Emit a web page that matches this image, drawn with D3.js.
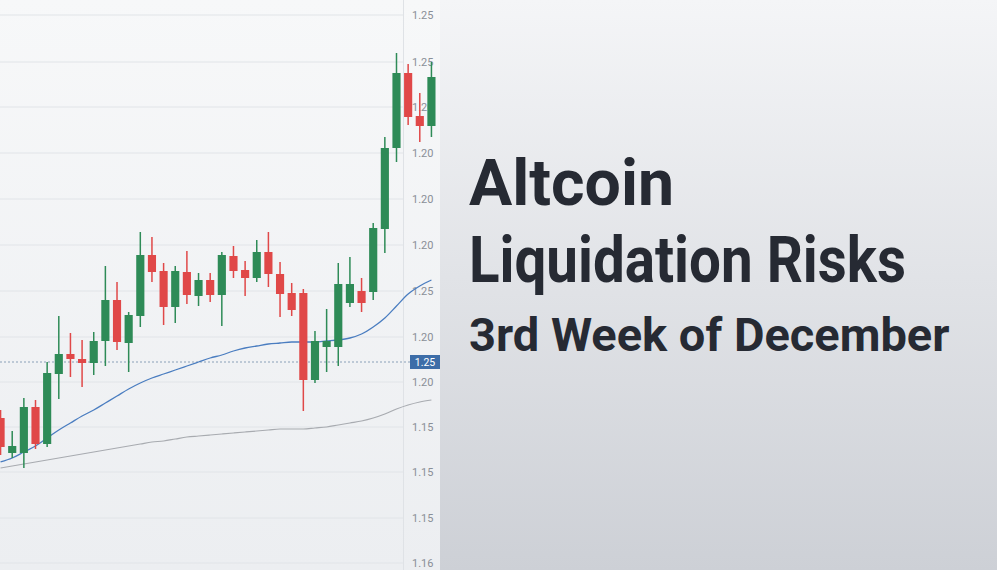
<!DOCTYPE html>
<html><head><meta charset="utf-8">
<script src="https://cdn.jsdelivr.net/npm/d3@7"></script>
<style>body{margin:0;overflow:hidden}svg{display:block}</style>
</head><body><svg></svg>
<script>
var width = 997, height = 570;

var opens  = [418,453,453,407,444,374,354,359,363,341,300,343,316,255,271,307,272,296,280,295,256,270,278,252,274,293,293,380,347,347,303,291,292,229,148,73,116,126];
var closes = [447,446,407,444,373,354,359,363,341,300,342,315,255,272,307,271,295,280,295,255,271,278,252,274,294,310,380,341,341,284,284,303,228,148,73,117,126,77];
var highs  = [410,431,398,400,362,316,333,340,332,266,282,312,232,237,263,266,251,273,273,252,246,261,240,232,262,283,289,331,309,263,257,278,223,137,53,64,93,62];
var lows   = [455,458,468,449,447,399,377,387,375,366,350,372,327,282,325,323,304,306,302,326,278,296,282,287,317,316,411,383,372,366,307,312,300,253,162,125,142,137];
var maFast = [462,458,452,446,438,430,423,416,410,403,396,389,383,378,374,370,366,362,358,355,351,348,346,344,343,342,342,342,341,340,338,334,327,318,306,294,286,280];
var maSlow = [468,466,464,462,460,458,456,454,452,450,448,446,444,442,441,439,437,436,435,434,433,432,431,430,429,429,429,428,427,425,423,421,418,414,409,405,402,400];
var gridLevels = [15,62,107,153,199,245,291,337,382,427,472,518,563];
var tickLabels = ["1.25","1.25","1.20","1.20","1.20","1.20","1.25","1.20","1.20","1.15","1.15","1.15","1.16"];
var lastPrice = {level: 362, label: "1.25"};
var titleLines = ["Altcoin", "Liquidation Risks"];
var titleWidths = [205, 437];
var subtitle = "3rd Week of December";

var svg = d3.select("svg").attr("width", width).attr("height", height);
var defs = svg.append("defs");
var g1 = defs.append("linearGradient").attr("id","panel").attr("x1",0).attr("y1",0).attr("x2",0).attr("y2",1);
g1.append("stop").attr("offset","0").attr("stop-color","#f4f5f7");
g1.append("stop").attr("offset","1").attr("stop-color","#cdd0d6");
var g2 = defs.append("linearGradient").attr("id","chartbg").attr("x1",0).attr("y1",0).attr("x2",0).attr("y2",1);
g2.append("stop").attr("offset","0").attr("stop-color","#f7f8f9");
g2.append("stop").attr("offset","1").attr("stop-color","#eceef1");

svg.append("rect").attr("width",440).attr("height",height).attr("fill","url(#chartbg)");
svg.append("rect").attr("x",440).attr("width",width-440).attr("height",height).attr("fill","url(#panel)");

var x = d3.scaleBand().domain(d3.range(opens.length)).range([-7, 439]).padding(0.3);
var y = d3.scaleLinear().domain([0, height]).range([0, height]);
var cx = i => x(i) + x.bandwidth()/2;

// grid
svg.append("g").selectAll("line").data(gridLevels).enter().append("line")
    .attr("x1",0).attr("x2",403).attr("y1",d=>y(d)).attr("y2",d=>y(d))
    .attr("stroke","#e1e4e8").attr("stroke-width",1);
svg.append("line").attr("x1",403.5).attr("x2",403.5).attr("y1",0).attr("y2",height)
    .attr("stroke","#dfe2e6");

// price axis labels
svg.append("g").selectAll("text").data(gridLevels).enter().append("text")
    .attr("x",412).attr("y",d=>y(d)+4).text((d,i)=>tickLabels[i])
    .attr("font-family","Roboto, sans-serif").attr("font-size",11).attr("fill","#8a8f97");

// last price line
svg.append("line").attr("x1",0).attr("x2",410).attr("y1",y(lastPrice.level)).attr("y2",y(lastPrice.level))
    .attr("stroke","#8aa0b8").attr("stroke-dasharray","2,2");
svg.append("rect").attr("x",410).attr("y",y(lastPrice.level)-7).attr("width",30).attr("height",14).attr("fill","#3d6da8");
svg.append("text").attr("x",425).attr("y",y(lastPrice.level)+4).attr("text-anchor","middle")
    .attr("font-family","Roboto, sans-serif").attr("font-size",10.5).attr("fill","#fff").text(lastPrice.label);

// moving averages
var line = d3.line().x((d,i)=>cx(i)).y(d=>y(d)).curve(d3.curveMonotoneX);
svg.append("path").datum(maSlow).attr("d",line).attr("fill","none").attr("stroke","#a8abb0").attr("stroke-width",1.2);
svg.append("path").datum(maFast).attr("d",line).attr("fill","none").attr("stroke","#4a7dc0").attr("stroke-width",1.3);

// candles
var c = svg.append("g").selectAll("g").data(opens).enter().append("g");
var col = i => closes[i] < opens[i] ? "#2e8b57" : "#e04848";
c.append("line").attr("x1",(d,i)=>cx(i)).attr("x2",(d,i)=>cx(i))
    .attr("y1",(d,i)=>y(highs[i])).attr("y2",(d,i)=>y(lows[i]))
    .attr("stroke",(d,i)=>col(i)).attr("stroke-width",1.5);
c.append("rect").attr("x",(d,i)=>x(i)).attr("width",x.bandwidth())
    .attr("y",(d,i)=>y(Math.min(opens[i],closes[i])))
    .attr("height",(d,i)=>Math.max(2, Math.abs(y(closes[i])-y(opens[i]))))
    .attr("fill",(d,i)=>col(i));

// title
var t = svg.append("g").attr("font-family","Roboto, sans-serif").attr("font-weight",700).attr("fill","#262a33");
t.selectAll("text.h").data(titleLines).enter().append("text").attr("class","h")
    .attr("x",469).attr("y",(d,i)=>205 + i*77).attr("font-size",64)
    .attr("textLength",(d,i)=>titleWidths[i]).attr("lengthAdjust","spacingAndGlyphs").text(d=>d);
t.append("text").attr("x",469).attr("y",351).attr("font-size",47).text(subtitle);
</script></body></html>
